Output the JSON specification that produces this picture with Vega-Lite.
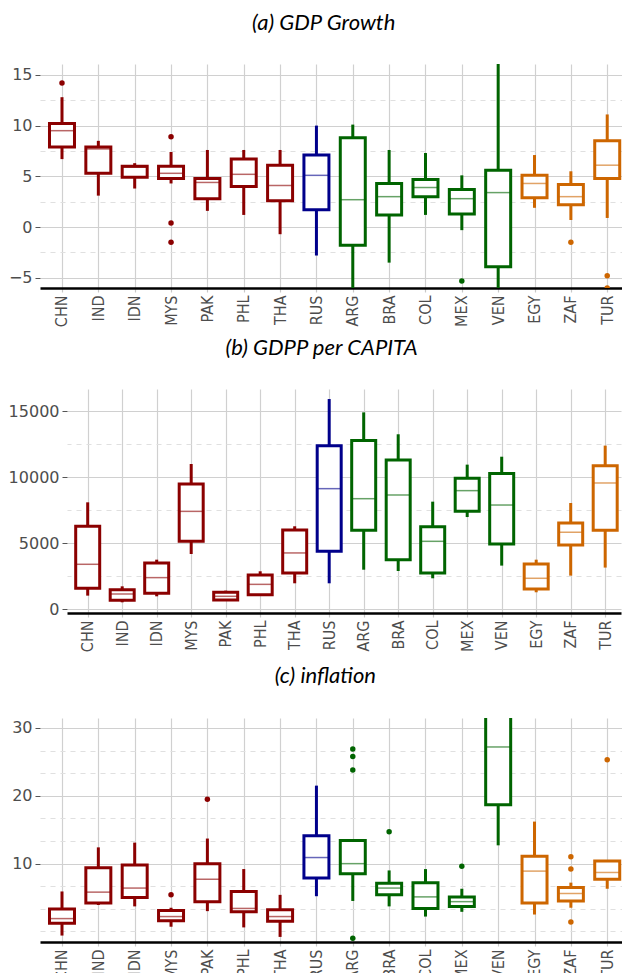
{
  "$schema": "https://vega.github.io/schema/vega-lite/v6.json",
  "background": "white",
  "padding": {"left": 8, "top": 12, "right": 0, "bottom": -8},
  "spacing": 10,
  "bounds": "full",
  "config": {
    "view": {"stroke": null},
    "axis": {"title": null},
    "title": {"font": "Lato", "fontStyle": "italic", "fontWeight": "normal", "fontSize": 22, "color": "black", "anchor": "middle", "frame": "bounds", "offset": 29, "dx": 7}
  },
  "datasets": {
    "boxes": [
      {"p":"a","c":"CHN","g":"Asia","lo":6.7,"q1":7.9,"md":9.5,"q3":10.2,"hi":12.8},
      {"p":"a","c":"IND","g":"Asia","lo":3.1,"q1":5.3,"md":7.7,"q3":7.9,"hi":8.5},
      {"p":"a","c":"IDN","g":"Asia","lo":3.8,"q1":4.9,"md":5.9,"q3":6.0,"hi":6.3},
      {"p":"a","c":"MYS","g":"Asia","lo":4.3,"q1":4.8,"md":5.3,"q3":6.0,"hi":7.4},
      {"p":"a","c":"PAK","g":"Asia","lo":1.6,"q1":2.8,"md":4.4,"q3":4.8,"hi":7.6},
      {"p":"a","c":"PHL","g":"Asia","lo":1.2,"q1":4.0,"md":5.2,"q3":6.7,"hi":7.6},
      {"p":"a","c":"THA","g":"Asia","lo":-0.7,"q1":2.6,"md":4.1,"q3":6.1,"hi":7.6},
      {"p":"a","c":"RUS","g":"Russia","lo":-2.8,"q1":1.7,"md":5.1,"q3":7.1,"hi":10.0},
      {"p":"a","c":"ARG","g":"LatAm","lo":-8,"q1":-1.8,"md":2.7,"q3":8.8,"hi":10.1},
      {"p":"a","c":"BRA","g":"LatAm","lo":-3.5,"q1":1.2,"md":3.0,"q3":4.3,"hi":7.6},
      {"p":"a","c":"COL","g":"LatAm","lo":1.2,"q1":3.0,"md":3.9,"q3":4.7,"hi":7.3},
      {"p":"a","c":"MEX","g":"LatAm","lo":-0.3,"q1":1.3,"md":2.8,"q3":3.7,"hi":5.1},
      {"p":"a","c":"VEN","g":"LatAm","lo":-8,"q1":-3.9,"md":3.4,"q3":5.6,"hi":18},
      {"p":"a","c":"EGY","g":"Other","lo":1.9,"q1":2.9,"md":4.3,"q3":5.1,"hi":7.1},
      {"p":"a","c":"ZAF","g":"Other","lo":0.7,"q1":2.2,"md":3.0,"q3":4.2,"hi":5.5},
      {"p":"a","c":"TUR","g":"Other","lo":0.9,"q1":4.8,"md":6.1,"q3":8.5,"hi":11.1},

      {"p":"b","c":"CHN","g":"Asia","lo":1035,"q1":1590,"md":3410,"q3":6290,"hi":8105},
      {"p":"b","c":"IND","g":"Asia","lo":530,"q1":680,"md":1160,"q3":1490,"hi":1740},
      {"p":"b","c":"IDN","g":"Asia","lo":985,"q1":1210,"md":2400,"q3":3510,"hi":3760},
      {"p":"b","c":"MYS","g":"Asia","lo":4190,"q1":5150,"md":7420,"q3":9495,"hi":11010},
      {"p":"b","c":"PAK","g":"Asia","lo":650,"q1":707,"md":985,"q3":1290,"hi":1414},
      {"p":"b","c":"PHL","g":"Asia","lo":1035,"q1":1110,"md":1890,"q3":2600,"hi":2880},
      {"p":"b","c":"THA","g":"Asia","lo":1970,"q1":2750,"md":4270,"q3":6010,"hi":6290},
      {"p":"b","c":"RUS","g":"Russia","lo":1970,"q1":4390,"md":9140,"q3":12400,"hi":15930},
      {"p":"b","c":"ARG","g":"LatAm","lo":3000,"q1":5980,"md":8380,"q3":12780,"hi":14920},
      {"p":"b","c":"BRA","g":"LatAm","lo":2900,"q1":3760,"md":8660,"q3":11310,"hi":13260},
      {"p":"b","c":"COL","g":"LatAm","lo":2350,"q1":2750,"md":5150,"q3":6260,"hi":8155},
      {"p":"b","c":"MEX","g":"LatAm","lo":6990,"q1":7420,"md":8990,"q3":9920,"hi":10960},
      {"p":"b","c":"VEN","g":"LatAm","lo":3310,"q1":4950,"md":7900,"q3":10280,"hi":11560},
      {"p":"b","c":"EGY","g":"Other","lo":1290,"q1":1540,"md":2350,"q3":3430,"hi":3760},
      {"p":"b","c":"ZAF","g":"Other","lo":2550,"q1":4870,"md":5830,"q3":6540,"hi":8055},
      {"p":"b","c":"TUR","g":"Other","lo":3160,"q1":5980,"md":9570,"q3":10880,"hi":12400},

      {"p":"c","c":"CHN","g":"Asia","lo":-0.6,"q1":1.2,"md":1.9,"q3":3.3,"hi":5.9},
      {"p":"c","c":"IND","g":"Asia","lo":3.9,"q1":4.2,"md":5.8,"q3":9.4,"hi":12.4},
      {"p":"c","c":"IDN","g":"Asia","lo":3.7,"q1":5.0,"md":6.4,"q3":9.8,"hi":13.1},
      {"p":"c","c":"MYS","g":"Asia","lo":0.7,"q1":1.6,"md":2.2,"q3":3.1,"hi":3.5},
      {"p":"c","c":"PAK","g":"Asia","lo":3.0,"q1":4.4,"md":7.7,"q3":10.0,"hi":13.7},
      {"p":"c","c":"PHL","g":"Asia","lo":0.6,"q1":2.9,"md":3.4,"q3":5.9,"hi":9.2},
      {"p":"c","c":"THA","g":"Asia","lo":-0.8,"q1":1.5,"md":2.2,"q3":3.2,"hi":5.4},
      {"p":"c","c":"RUS","g":"Russia","lo":5.2,"q1":7.9,"md":10.9,"q3":14.1,"hi":21.5},
      {"p":"c","c":"ARG","g":"LatAm","lo":4.5,"q1":8.5,"md":10.0,"q3":13.4,"hi":13.4},
      {"p":"c","c":"BRA","g":"LatAm","lo":3.7,"q1":5.4,"md":6.4,"q3":7.1,"hi":9.0},
      {"p":"c","c":"COL","g":"LatAm","lo":2.2,"q1":3.4,"md":5.1,"q3":7.2,"hi":9.2},
      {"p":"c","c":"MEX","g":"LatAm","lo":2.9,"q1":3.7,"md":4.4,"q3":5.1,"hi":6.3},
      {"p":"c","c":"VEN","g":"LatAm","lo":12.7,"q1":18.7,"md":27.2,"q3":34,"hi":40},
      {"p":"c","c":"EGY","g":"Other","lo":2.5,"q1":4.2,"md":8.9,"q3":11.1,"hi":16.2},
      {"p":"c","c":"ZAF","g":"Other","lo":3.5,"q1":4.5,"md":5.6,"q3":6.5,"hi":7.2},
      {"p":"c","c":"TUR","g":"Other","lo":6.3,"q1":7.7,"md":8.7,"q3":10.4,"hi":10.4}
    ],
    "outliers": [
      {"p":"a","c":"CHN","g":"Asia","v":14.2},
      {"p":"a","c":"MYS","g":"Asia","v":8.9},
      {"p":"a","c":"MYS","g":"Asia","v":0.4},
      {"p":"a","c":"MYS","g":"Asia","v":-1.5},
      {"p":"a","c":"MEX","g":"LatAm","v":-5.3},
      {"p":"a","c":"ZAF","g":"Other","v":-1.5},
      {"p":"a","c":"TUR","g":"Other","v":-4.8},
      {"p":"a","c":"TUR","g":"Other","v":-6.0},
      {"p":"c","c":"MYS","g":"Asia","v":5.4},
      {"p":"c","c":"PAK","g":"Asia","v":19.5},
      {"p":"c","c":"ARG","g":"LatAm","v":26.9},
      {"p":"c","c":"ARG","g":"LatAm","v":25.8},
      {"p":"c","c":"ARG","g":"LatAm","v":23.8},
      {"p":"c","c":"ARG","g":"LatAm","v":-1.0},
      {"p":"c","c":"BRA","g":"LatAm","v":14.7},
      {"p":"c","c":"MEX","g":"LatAm","v":9.6},
      {"p":"c","c":"ZAF","g":"Other","v":11.0},
      {"p":"c","c":"ZAF","g":"Other","v":9.2},
      {"p":"c","c":"ZAF","g":"Other","v":1.4},
      {"p":"c","c":"TUR","g":"Other","v":25.3}
    ]
  },
  "vconcat": [
    {
      "title": {"text": "(a) GDP Growth", "offset": 29},
      "width": 585, "height": 224,
      "resolve": {"axis": {"y": "independent"}},
      "layer": [
        {
          "data": {"name": "boxes"},
          "transform": [{"filter": "datum.p == 'a'"}],
          "mark": {"type": "rule", "strokeWidth": 3, "clip": true},
          "encoding": {
            "x": {"field": "c", "type": "nominal", "sort": null,
              "scale": {"type": "point", "domain": ["CHN","IND","IDN","MYS","PAK","PHL","THA","RUS","ARG","BRA","COL","MEX","VEN","EGY","ZAF","TUR"], "padding": 0.547, "align": 0.553},
              "axis": {"title": null, "labelAngle": 270, "labelFont": "DejaVu Sans Condensed", "labelFontSize": 16, "labelColor": "#4d4d4d", "labelPadding": 3, "domainColor": "black", "domainWidth": 2.5, "tickColor": "#c8c8c8", "tickSize": 4, "tickWidth": 1.2, "grid": true, "gridColor": "#d0d0d0", "gridWidth": 1.2}},
            "y": {"field": "lo", "type": "quantitative",
              "scale": {"domain": [-6, 16.07], "nice": false, "zero": false},
              "axis": {"title": null, "values": [-5, 0, 5, 10, 15], "grid": true, "gridColor": "#d0d0d0", "gridWidth": 1.2, "domain": false, "labelFont": "DejaVu Sans", "labelFontSize": 16, "labelColor": "#4d4d4d", "labelPadding": 3, "tickSize": 5, "tickColor": "#555555"}},
            "y2": {"field": "hi"},
            "color": {"field": "g", "type": "nominal", "legend": null, "scale": {"domain": ["Asia","Russia","LatAm","Other"], "range": ["#8B0000","#00008B","#006400","#CD6600"]}}
          }
        },
        {
          "data": {"name": "boxes"},
          "transform": [{"filter": "datum.p == 'a'"}],
          "mark": {"type": "bar", "fill": "white", "strokeWidth": 3, "size": 25, "clip": true},
          "encoding": {
            "x": {"field": "c", "type": "nominal", "sort": null},
            "y": {"field": "q1", "type": "quantitative",
              "axis": {"orient": "right", "title": null, "values": [-2.5, 2.5, 7.5, 12.5], "grid": true, "gridDash": [5, 5], "gridColor": "#e0e0e0", "gridWidth": 1.2, "labels": false, "ticks": false, "domain": false}},
            "y2": {"field": "q3"},
            "stroke": {"field": "g", "type": "nominal", "legend": null, "scale": {"domain": ["Asia","Russia","LatAm","Other"], "range": ["#8B0000","#00008B","#006400","#CD6600"]}}
          }
        },
        {
          "data": {"name": "boxes"},
          "transform": [{"filter": "datum.p == 'a'"}],
          "mark": {"type": "tick", "thickness": 1.5, "size": 24, "opacity": 0.6, "clip": true},
          "encoding": {
            "x": {"field": "c", "type": "nominal", "sort": null},
            "y": {"field": "md", "type": "quantitative", "axis": null},
            "color": {"field": "g", "type": "nominal", "legend": null}
          }
        },
        {
          "data": {"name": "outliers"},
          "transform": [{"filter": "datum.p == 'a'"}],
          "mark": {"type": "circle", "size": 30, "opacity": 1, "clip": true},
          "encoding": {
            "x": {"field": "c", "type": "nominal", "sort": null},
            "y": {"field": "v", "type": "quantitative", "axis": null},
            "color": {"field": "g", "type": "nominal", "legend": null}
          }
        }
      ]
    },
    {
      "spacing": -33,
      "bounds": "full",
      "hconcat": [
        {
          "width": 1, "height": 266,
          "data": {"values": []},
          "mark": {"type": "point", "opacity": 0},
          "encoding": {}
        },
        {
          "title": {"text": "(b) GDPP per CAPITA", "offset": 29},
          "width": 554, "height": 224,
          "resolve": {"axis": {"y": "independent"}},
          "layer": [
            {
              "data": {"name": "boxes"},
              "transform": [{"filter": "datum.p == 'b'"}],
              "mark": {"type": "rule", "strokeWidth": 3, "clip": true},
              "encoding": {
                "x": {"field": "c", "type": "nominal", "sort": null,
                  "scale": {"type": "point", "domain": ["CHN","IND","IDN","MYS","PAK","PHL","THA","RUS","ARG","BRA","COL","MEX","VEN","EGY","ZAF","TUR"], "padding": 0.529, "align": 0.567},
                  "axis": {"title": null, "labelAngle": 270, "labelFont": "DejaVu Sans Condensed", "labelFontSize": 16, "labelColor": "#4d4d4d", "labelPadding": 3, "domainColor": "black", "domainWidth": 2.5, "tickColor": "#c8c8c8", "tickSize": 4, "tickWidth": 1.2, "grid": true, "gridColor": "#d0d0d0", "gridWidth": 1.2}},
                "y": {"field": "lo", "type": "quantitative",
                  "scale": {"domain": [-280, 16690], "nice": false, "zero": false},
                  "axis": {"title": null, "values": [0, 5000, 10000, 15000], "format": "d", "grid": true, "gridColor": "#d0d0d0", "gridWidth": 1.2, "domain": false, "labelFont": "DejaVu Sans", "labelFontSize": 16, "labelColor": "#4d4d4d", "labelPadding": 3, "tickSize": 5, "tickColor": "#555555"}},
                "y2": {"field": "hi"},
                "color": {"field": "g", "type": "nominal", "legend": null, "scale": {"domain": ["Asia","Russia","LatAm","Other"], "range": ["#8B0000","#00008B","#006400","#CD6600"]}}
              }
            },
            {
              "data": {"name": "boxes"},
              "transform": [{"filter": "datum.p == 'b'"}],
              "mark": {"type": "bar", "fill": "white", "strokeWidth": 3, "size": 24, "clip": true},
              "encoding": {
                "x": {"field": "c", "type": "nominal", "sort": null},
                "y": {"field": "q1", "type": "quantitative",
                  "axis": {"orient": "right", "title": null, "values": [2500, 7500, 12500], "grid": true, "gridDash": [5, 5], "gridColor": "#e0e0e0", "gridWidth": 1.2, "labels": false, "ticks": false, "domain": false}},
                "y2": {"field": "q3"},
                "stroke": {"field": "g", "type": "nominal", "legend": null, "scale": {"domain": ["Asia","Russia","LatAm","Other"], "range": ["#8B0000","#00008B","#006400","#CD6600"]}}
              }
            },
            {
              "data": {"name": "boxes"},
              "transform": [{"filter": "datum.p == 'b'"}],
              "mark": {"type": "tick", "thickness": 1.5, "size": 23, "opacity": 0.6, "clip": true},
              "encoding": {
                "x": {"field": "c", "type": "nominal", "sort": null},
                "y": {"field": "md", "type": "quantitative", "axis": null},
                "color": {"field": "g", "type": "nominal", "legend": null}
              }
            }
          ]
        }
      ]
    },
    {
      "title": {"text": "(c) inflation", "offset": 30},
      "width": 585, "height": 224,
      "resolve": {"axis": {"y": "independent"}},
      "layer": [
        {
          "data": {"name": "boxes"},
          "transform": [{"filter": "datum.p == 'c'"}],
          "mark": {"type": "rule", "strokeWidth": 3, "clip": true},
          "encoding": {
            "x": {"field": "c", "type": "nominal", "sort": null,
              "scale": {"type": "point", "domain": ["CHN","IND","IDN","MYS","PAK","PHL","THA","RUS","ARG","BRA","COL","MEX","VEN","EGY","ZAF","TUR"], "padding": 0.547, "align": 0.553},
              "axis": {"title": null, "labelAngle": 270, "labelFont": "DejaVu Sans Condensed", "labelFontSize": 16, "labelColor": "#4d4d4d", "labelPadding": 3, "domainColor": "black", "domainWidth": 2.5, "tickColor": "#c8c8c8", "tickSize": 4, "tickWidth": 1.2, "grid": true, "gridColor": "#d0d0d0", "gridWidth": 1.2}},
            "y": {"field": "lo", "type": "quantitative",
              "scale": {"domain": [-1.55, 31.47], "nice": false, "zero": false},
              "axis": {"title": null, "values": [10, 20, 30], "grid": true, "gridColor": "#d0d0d0", "gridWidth": 1.2, "domain": false, "labelFont": "DejaVu Sans", "labelFontSize": 16, "labelColor": "#4d4d4d", "labelPadding": 3, "tickSize": 5, "tickColor": "#555555"}},
            "y2": {"field": "hi"},
            "color": {"field": "g", "type": "nominal", "legend": null, "scale": {"domain": ["Asia","Russia","LatAm","Other"], "range": ["#8B0000","#00008B","#006400","#CD6600"]}}
          }
        },
        {
          "data": {"name": "boxes"},
          "transform": [{"filter": "datum.p == 'c'"}],
          "mark": {"type": "bar", "fill": "white", "strokeWidth": 3, "size": 25, "clip": true},
          "encoding": {
            "x": {"field": "c", "type": "nominal", "sort": null},
            "y": {"field": "q1", "type": "quantitative",
              "axis": {"orient": "right", "title": null, "values": [0, 3.333, 6.667, 13.333, 16.667, 23.333, 26.667], "grid": true, "gridDash": [5, 5], "gridColor": "#e0e0e0", "gridWidth": 1.2, "labels": false, "ticks": false, "domain": false}},
            "y2": {"field": "q3"},
            "stroke": {"field": "g", "type": "nominal", "legend": null, "scale": {"domain": ["Asia","Russia","LatAm","Other"], "range": ["#8B0000","#00008B","#006400","#CD6600"]}}
          }
        },
        {
          "data": {"name": "boxes"},
          "transform": [{"filter": "datum.p == 'c'"}],
          "mark": {"type": "tick", "thickness": 1.5, "size": 24, "opacity": 0.6, "clip": true},
          "encoding": {
            "x": {"field": "c", "type": "nominal", "sort": null},
            "y": {"field": "md", "type": "quantitative", "axis": null},
            "color": {"field": "g", "type": "nominal", "legend": null}
          }
        },
        {
          "data": {"name": "outliers"},
          "transform": [{"filter": "datum.p == 'c'"}],
          "mark": {"type": "circle", "size": 30, "opacity": 1, "clip": true},
          "encoding": {
            "x": {"field": "c", "type": "nominal", "sort": null},
            "y": {"field": "v", "type": "quantitative", "axis": null},
            "color": {"field": "g", "type": "nominal", "legend": null}
          }
        }
      ]
    }
  ]
}
